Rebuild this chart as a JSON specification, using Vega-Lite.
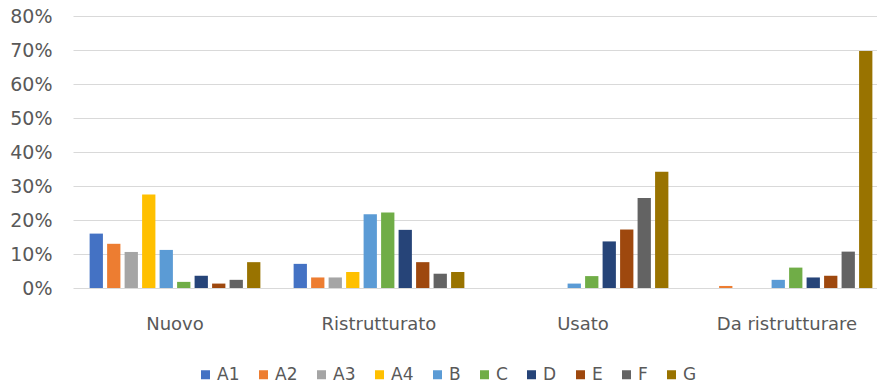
{
  "$schema": "https://vega.github.io/schema/vega-lite/v6.json",
  "autosize": "none",
  "width": 800,
  "height": 272,
  "padding": {"left": 73, "top": 16, "right": 4, "bottom": 99},
  "background": "white",
  "config": {
    "view": {"stroke": null},
    "font": "DejaVu Sans"
  },
  "data": {
    "values": [
      {"tipo": "Nuovo", "serie": "A1", "quota": 0.160},
      {"tipo": "Nuovo", "serie": "A2", "quota": 0.130},
      {"tipo": "Nuovo", "serie": "A3", "quota": 0.106},
      {"tipo": "Nuovo", "serie": "A4", "quota": 0.275},
      {"tipo": "Nuovo", "serie": "B", "quota": 0.112},
      {"tipo": "Nuovo", "serie": "C", "quota": 0.018},
      {"tipo": "Nuovo", "serie": "D", "quota": 0.036},
      {"tipo": "Nuovo", "serie": "E", "quota": 0.013},
      {"tipo": "Nuovo", "serie": "F", "quota": 0.024},
      {"tipo": "Nuovo", "serie": "G", "quota": 0.076},
      {"tipo": "Ristrutturato", "serie": "A1", "quota": 0.071},
      {"tipo": "Ristrutturato", "serie": "A2", "quota": 0.031},
      {"tipo": "Ristrutturato", "serie": "A3", "quota": 0.031},
      {"tipo": "Ristrutturato", "serie": "A4", "quota": 0.047},
      {"tipo": "Ristrutturato", "serie": "B", "quota": 0.217},
      {"tipo": "Ristrutturato", "serie": "C", "quota": 0.222},
      {"tipo": "Ristrutturato", "serie": "D", "quota": 0.171},
      {"tipo": "Ristrutturato", "serie": "E", "quota": 0.076},
      {"tipo": "Ristrutturato", "serie": "F", "quota": 0.042},
      {"tipo": "Ristrutturato", "serie": "G", "quota": 0.047},
      {"tipo": "Usato", "serie": "A1", "quota": 0},
      {"tipo": "Usato", "serie": "A2", "quota": 0},
      {"tipo": "Usato", "serie": "A3", "quota": 0},
      {"tipo": "Usato", "serie": "A4", "quota": 0},
      {"tipo": "Usato", "serie": "B", "quota": 0.013},
      {"tipo": "Usato", "serie": "C", "quota": 0.035},
      {"tipo": "Usato", "serie": "D", "quota": 0.137},
      {"tipo": "Usato", "serie": "E", "quota": 0.172},
      {"tipo": "Usato", "serie": "F", "quota": 0.265},
      {"tipo": "Usato", "serie": "G", "quota": 0.342},
      {"tipo": "Da ristrutturare", "serie": "A1", "quota": 0},
      {"tipo": "Da ristrutturare", "serie": "A2", "quota": 0.006},
      {"tipo": "Da ristrutturare", "serie": "A3", "quota": 0},
      {"tipo": "Da ristrutturare", "serie": "A4", "quota": 0},
      {"tipo": "Da ristrutturare", "serie": "B", "quota": 0.024},
      {"tipo": "Da ristrutturare", "serie": "C", "quota": 0.060},
      {"tipo": "Da ristrutturare", "serie": "D", "quota": 0.031},
      {"tipo": "Da ristrutturare", "serie": "E", "quota": 0.036},
      {"tipo": "Da ristrutturare", "serie": "F", "quota": 0.107},
      {"tipo": "Da ristrutturare", "serie": "G", "quota": 0.697}
    ]
  },
  "mark": {"type": "bar"},
  "encoding": {
    "x": {
      "field": "tipo",
      "type": "nominal",
      "scale": {
        "domain": ["Nuovo", "Ristrutturato", "Usato", "Da ristrutturare"],
        "range": [0, 816],
        "paddingInner": 0,
        "paddingOuter": 0
      },
      "axis": {
        "title": null,
        "labelAngle": 0,
        "domain": false,
        "ticks": false,
        "tickSize": 0,
        "grid": false,
        "labelFont": "DejaVu Sans",
        "labelFontSize": 18,
        "labelColor": "#595959",
        "labelPadding": 27
      }
    },
    "xOffset": {
      "field": "serie",
      "type": "nominal",
      "scale": {
        "domain": ["A1", "A2", "A3", "A4", "B", "C", "D", "E", "F", "G"],
        "paddingInner": 0.24,
        "paddingOuter": 0.95
      }
    },
    "y": {
      "field": "quota",
      "type": "quantitative",
      "scale": {"domain": [0, 0.8], "nice": false, "zero": true},
      "axis": {
        "title": null,
        "values": [0, 0.1, 0.2, 0.3, 0.4, 0.5, 0.6, 0.7, 0.8],
        "format": ".0%",
        "domain": false,
        "ticks": false,
        "tickSize": 0,
        "grid": true,
        "gridColor": "#D9D9D9",
        "gridWidth": 1,
        "labelFont": "DejaVu Sans",
        "labelFontSize": 19,
        "labelColor": "#595959",
        "labelPadding": 21
      }
    },
    "color": {
      "field": "serie",
      "type": "nominal",
      "scale": {
        "domain": ["A1", "A2", "A3", "A4", "B", "C", "D", "E", "F", "G"],
        "range": ["#4472C4", "#ED7D31", "#A5A5A5", "#FFC000", "#5B9BD5", "#70AD47", "#264478", "#9E480E", "#636363", "#997300"]
      },
      "legend": {
        "title": null,
        "orient": "none",
        "direction": "horizontal",
        "columns": 10,
        "legendX": 124,
        "legendY": 350,
        "padding": 0,
        "symbolType": "square",
        "symbolSize": 81,
        "symbolStrokeWidth": 0,
        "labelOffset": 3,
        "columnPadding": 15,
        "labelFont": "DejaVu Sans",
        "labelFontSize": 17,
        "labelColor": "#595959"
      }
    }
  }
}
